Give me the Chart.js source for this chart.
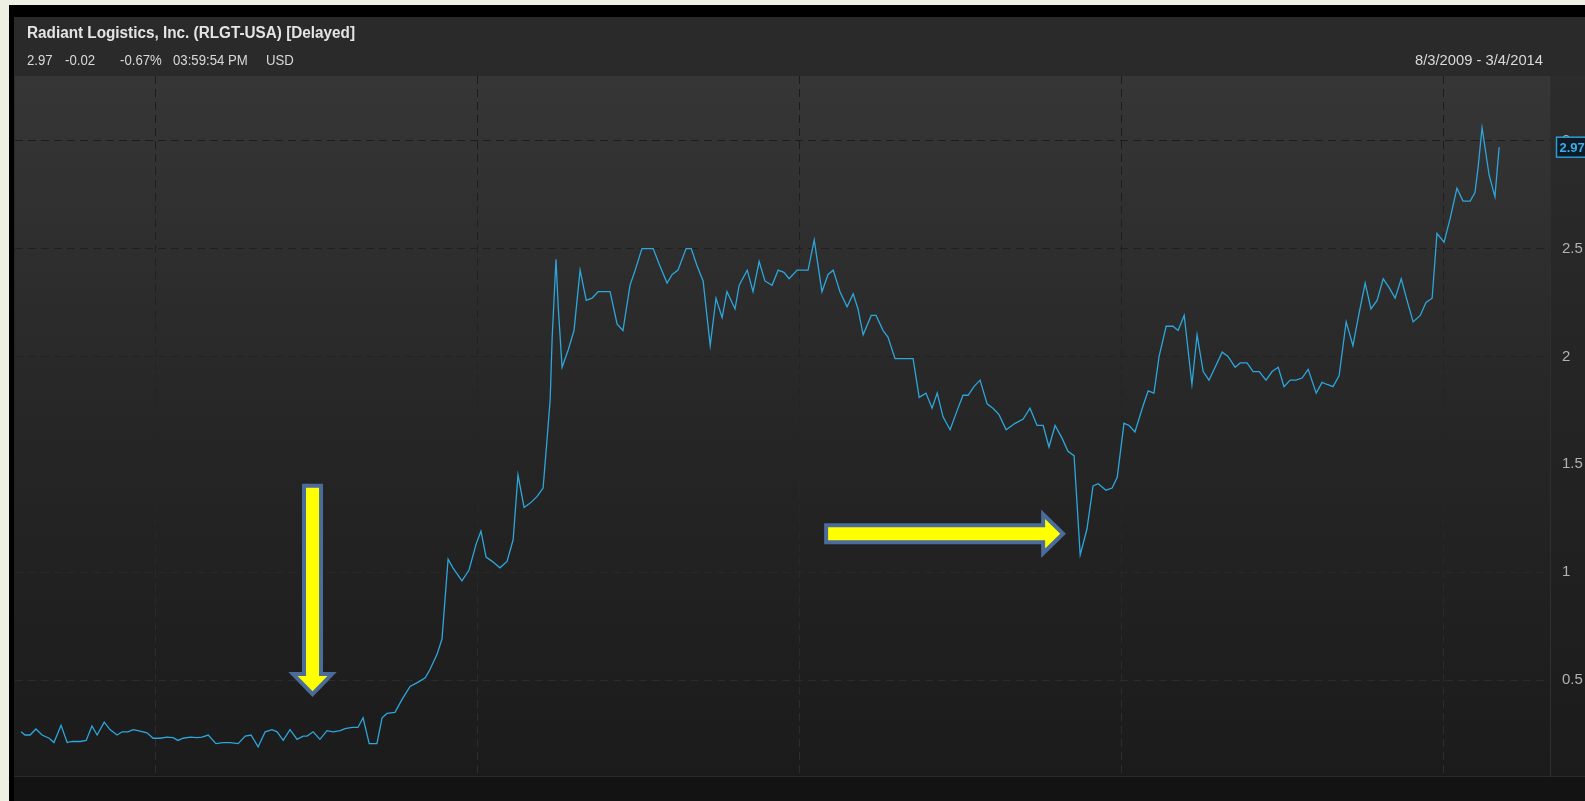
<!DOCTYPE html>
<html>
<head>
<meta charset="utf-8">
<script src="https://cdn.jsdelivr.net/npm/chart.js@4.4.0/dist/chart.umd.min.js"></script>
<style>
  html, body { margin: 0; padding: 0; width: 1585px; height: 801px; overflow: hidden; background: #edf0e3; }
  #chart { position: absolute; left: 0; top: 0; }
  .txt { position: absolute; white-space: pre; font-family: "Liberation Sans", Arial, sans-serif;
         font-size: 15px; line-height: 16px; color: #d9d9d9; transform-origin: left center; transform: scaleX(0.88); }
  .bold { font-size: 16px; font-weight: bold; color: #e4e4e4; transform: none; }
</style>
</head>
<body>
<canvas id="chart" width="1585" height="801"></canvas>

<div class="txt bold" style="left:27px; top:25px" data-w="328">Radiant Logistics, Inc. (RLGT-USA) [Delayed]</div>
<div class="txt" style="left:27px; top:52px">2.97</div>
<div class="txt" style="left:65px; top:52px">-0.02</div>
<div class="txt" style="left:120px; top:52px">-0.67%</div>
<div class="txt" style="left:173px; top:52px">03:59:54 PM</div>
<div class="txt" style="left:266px; top:52px">USD</div>
<div class="txt" style="left:1415px; top:52px" data-w="128">8/3/2009 - 3/4/2014</div>

<script>
// weekly closes, x = decimal year
const weekOf = [
  2009.584, 2009.596, 2009.612, 2009.630, 2009.649, 2009.671, 2009.686, 2009.708, 2009.727, 2009.742,
  2009.767, 2009.786, 2009.804, 2009.820, 2009.842, 2009.860, 2009.882, 2009.898, 2009.916, 2009.932,
  2009.947, 2009.975, 2009.994, 2010.016, 2010.037, 2010.056, 2010.071, 2010.087, 2010.109, 2010.130,
  2010.146, 2010.165, 2010.189, 2010.211, 2010.233, 2010.258, 2010.280, 2010.298, 2010.320, 2010.342,
  2010.363, 2010.379, 2010.398, 2010.419, 2010.441, 2010.460, 2010.472, 2010.491, 2010.512, 2010.534,
  2010.553, 2010.575, 2010.590, 2010.612, 2010.630, 2010.646, 2010.665, 2010.689, 2010.705, 2010.720,
  2010.745, 2010.767, 2010.792, 2010.817, 2010.839, 2010.854, 2010.876, 2010.891, 2010.910, 2010.925,
  2010.953, 2010.975, 2010.997, 2011.012, 2011.028, 2011.047, 2011.071, 2011.093, 2011.112, 2011.127,
  2011.146, 2011.165, 2011.186, 2011.205, 2011.217, 2011.227, 2011.233, 2011.245, 2011.252, 2011.264,
  2011.283, 2011.301, 2011.320, 2011.339, 2011.357, 2011.376, 2011.394, 2011.413, 2011.435, 2011.453,
  2011.475, 2011.491, 2011.512, 2011.531, 2011.547, 2011.565, 2011.590, 2011.606, 2011.624, 2011.649,
  2011.665, 2011.683, 2011.702, 2011.724, 2011.742, 2011.761, 2011.776, 2011.801, 2011.814, 2011.839,
  2011.857, 2011.876, 2011.894, 2011.916, 2011.935, 2011.953, 2011.969, 2011.994, 2012.012, 2012.028,
  2012.047, 2012.071, 2012.090, 2012.106, 2012.127, 2012.149, 2012.168, 2012.183, 2012.199, 2012.224,
  2012.239, 2012.261, 2012.276, 2012.298, 2012.314, 2012.335, 2012.354, 2012.373, 2012.394, 2012.413,
  2012.429, 2012.447, 2012.469, 2012.491, 2012.509, 2012.525, 2012.543, 2012.562, 2012.584, 2012.602,
  2012.621, 2012.643, 2012.671, 2012.696, 2012.717, 2012.739, 2012.758, 2012.776, 2012.795, 2012.817,
  2012.835, 2012.854, 2012.873, 2012.894, 2012.913, 2012.929, 2012.953, 2012.972, 2012.988, 2013.009,
  2013.025, 2013.043, 2013.068, 2013.084, 2013.102, 2013.118, 2013.140, 2013.161, 2013.177, 2013.196,
  2013.220, 2013.236, 2013.255, 2013.273, 2013.292, 2013.314, 2013.332, 2013.354, 2013.370, 2013.391,
  2013.410, 2013.429, 2013.450, 2013.469, 2013.488, 2013.506, 2013.525, 2013.543, 2013.562, 2013.581,
  2013.606, 2013.624, 2013.640, 2013.658, 2013.677, 2013.699, 2013.720, 2013.739, 2013.758, 2013.776,
  2013.795, 2013.814, 2013.832, 2013.851, 2013.870, 2013.888, 2013.907, 2013.929, 2013.947, 2013.966,
  2013.981, 2014.003, 2014.022, 2014.043, 2014.062, 2014.084, 2014.099, 2014.109, 2014.121, 2014.143,
  2014.161, 2014.174
];
const closePrice = [
  0.26, 0.245, 0.245, 0.273, 0.245, 0.23, 0.21, 0.29, 0.21, 0.215,
  0.215, 0.22, 0.287, 0.245, 0.305, 0.27, 0.245, 0.26, 0.26, 0.27,
  0.265, 0.255, 0.23, 0.23, 0.235, 0.233, 0.22, 0.23, 0.235, 0.233,
  0.235, 0.245, 0.205, 0.21, 0.21, 0.205, 0.24, 0.245, 0.19, 0.26,
  0.27, 0.26, 0.22, 0.27, 0.225, 0.24, 0.24, 0.26, 0.225, 0.265,
  0.26, 0.265, 0.275, 0.28, 0.28, 0.325, 0.205, 0.205, 0.325, 0.345,
  0.35, 0.41, 0.47, 0.49, 0.51, 0.55, 0.62, 0.69, 1.06, 1.02,
  0.96, 1.01, 1.13, 1.19, 1.07, 1.05, 1.02, 1.05, 1.15, 1.45,
  1.30, 1.32, 1.35, 1.39, 1.61, 1.80, 2.08, 2.45, 2.23, 1.95,
  2.03, 2.12, 2.40, 2.26, 2.27, 2.30, 2.30, 2.30, 2.15, 2.12,
  2.33, 2.40, 2.50, 2.50, 2.50, 2.43, 2.34, 2.38, 2.40, 2.50,
  2.50, 2.42, 2.35, 2.05, 2.27, 2.18, 2.30, 2.22, 2.33, 2.40,
  2.30, 2.44, 2.35, 2.33, 2.40, 2.39, 2.36, 2.40, 2.40, 2.40,
  2.54, 2.30, 2.38, 2.40, 2.30, 2.23, 2.29, 2.22, 2.10, 2.19,
  2.19, 2.12, 2.09, 1.99, 1.99, 1.99, 1.99, 1.81, 1.83, 1.76,
  1.83, 1.72, 1.66, 1.75, 1.82, 1.82, 1.86, 1.89, 1.78, 1.76,
  1.73, 1.66, 1.69, 1.71, 1.76, 1.68, 1.68, 1.58, 1.68, 1.62,
  1.56, 1.54, 1.08, 1.20, 1.40, 1.41, 1.38, 1.39, 1.44, 1.69,
  1.68, 1.65, 1.77, 1.84, 1.83, 2.00, 2.14, 2.14, 2.12, 2.19,
  1.87, 2.10, 1.93, 1.89, 1.95, 2.02, 2.00, 1.95, 1.97, 1.97,
  1.93, 1.93, 1.89, 1.93, 1.95, 1.86, 1.89, 1.89, 1.90, 1.94,
  1.83, 1.88, 1.87, 1.86, 1.91, 2.16, 2.05, 2.20, 2.34, 2.22,
  2.26, 2.36, 2.32, 2.27, 2.36, 2.26, 2.16, 2.19, 2.25, 2.27,
  2.57, 2.53, 2.64, 2.78, 2.72, 2.72, 2.76, 2.88, 3.06, 2.84,
  2.74, 2.97
];
const yTicks = [0.5, 1, 1.5, 2, 2.5, 3];
const yearTicks = [2010, 2011, 2012, 2013, 2014];
// yellow callout arrows, in data units [year, price]
const arrowMarks = [
  { from: [2010.489, 1.40], to: [2010.489, 0.435] },
  { from: [2012.084, 1.178], to: [2012.820, 1.178] }
];

// squeeze the title and date range to their width in the original
document.querySelectorAll('.txt[data-w]').forEach(el => {
  el.style.transform = 'none';
  const w = el.getBoundingClientRect().width;
  el.style.transform = 'scaleX(' + (el.dataset.w / w) + ')';
});

function gridShade(chart) {
  const a = chart.chartArea;
  if (!a) return '#262626';
  const g = chart.ctx.createLinearGradient(0, a.top, 0, a.bottom);
  g.addColorStop(0, '#1b1b1b');
  g.addColorStop(1, '#2e2e2e');
  return g;
}

const frame = {
  id: 'frame',
  beforeDraw(chart) {
    const { ctx, chartArea: a, width, height } = chart;
    ctx.save();
    ctx.fillStyle = '#edf0e3';
    ctx.fillRect(0, 0, width, height);
    ctx.fillStyle = '#000';
    ctx.fillRect(9, 5, width - 9, height - 5);
    ctx.fillStyle = '#2a2a2a';
    ctx.fillRect(14, 17, width - 14, height - 17);

    let g = ctx.createLinearGradient(0, a.top, 0, a.bottom);
    g.addColorStop(0, '#2c2c2c');
    g.addColorStop(1, '#1b1b1b');
    ctx.fillStyle = g;
    ctx.fillRect(14, a.top, width - 14, a.bottom - a.top);

    g = ctx.createLinearGradient(0, a.top, 0, a.bottom);
    g.addColorStop(0, '#363636');
    g.addColorStop(0.5, '#262626');
    g.addColorStop(1, '#1b1b1b');
    ctx.fillStyle = g;
    ctx.fillRect(a.left, a.top, a.right - a.left, a.bottom - a.top);

    ctx.fillStyle = '#131313';
    ctx.fillRect(14, a.bottom + 1, width - 14, height - a.bottom - 1);
    ctx.restore();
  }
};

const marks = {
  id: 'marks',
  afterDraw(chart) {
    const { ctx } = chart;
    const xs = chart.scales.x, ys = chart.scales.y;
    ctx.save();
    arrowMarks.forEach(m => {
      const x1 = xs.getPixelForValue(m.from[0]), y1 = ys.getPixelForValue(m.from[1]);
      const x2 = xs.getPixelForValue(m.to[0]), y2 = ys.getPixelForValue(m.to[1]);
      const len = Math.hypot(x2 - x1, y2 - y1);
      const ux = (x2 - x1) / len, uy = (y2 - y1) / len;
      const nx = -uy, ny = ux;
      const sw = 8.5, hw = 19.5, hl = 20;
      const bx = x2 - ux * hl, by = y2 - uy * hl;
      ctx.beginPath();
      ctx.moveTo(x1 + nx * sw, y1 + ny * sw);
      ctx.lineTo(bx + nx * sw, by + ny * sw);
      ctx.lineTo(bx + nx * hw, by + ny * hw);
      ctx.lineTo(x2, y2);
      ctx.lineTo(bx - nx * hw, by - ny * hw);
      ctx.lineTo(bx - nx * sw, by - ny * sw);
      ctx.lineTo(x1 - nx * sw, y1 - ny * sw);
      ctx.closePath();
      ctx.fillStyle = '#ffff00';
      ctx.fill();
      ctx.lineWidth = 4;
      ctx.lineJoin = 'miter';
      ctx.strokeStyle = '#4b6b9b';
      ctx.stroke();
    });

    // last price tag on the axis
    const last = closePrice[closePrice.length - 1];
    const ty = ys.getPixelForValue(last);
    const tx = chart.chartArea.right + 6.5;
    ctx.fillStyle = '#0c1b25';
    ctx.fillRect(tx, ty - 10, 40, 20);
    ctx.lineWidth = 1.5;
    ctx.strokeStyle = '#2b9cd6';
    ctx.strokeRect(tx, ty - 10, 40, 20);
    ctx.fillStyle = '#3aaee8';
    ctx.font = 'bold 13px "Liberation Sans", Arial, sans-serif';
    ctx.textBaseline = 'middle';
    ctx.fillText(last.toFixed(2), tx + 3, ty + 1);
    ctx.restore();
  }
};

new Chart(document.getElementById('chart'), {
  type: 'line',
  data: {
    datasets: [{
      data: weekOf.map((x, i) => ({ x: x, y: closePrice[i] })),
      borderColor: '#2da6dc',
      borderWidth: 1.3,
      pointRadius: 0,
      tension: 0,
      fill: false
    }]
  },
  options: {
    responsive: false,
    animation: false,
    devicePixelRatio: 1,
    layout: { padding: { left: 15, top: 76, right: 0, bottom: 25 } },
    plugins: { legend: { display: false }, tooltip: { enabled: false } },
    scales: {
      x: {
        type: 'linear',
        min: 2009.565,
        max: 2014.332,
        afterBuildTicks: s => { s.ticks = yearTicks.map(v => ({ value: v })); },
        afterFit: s => { s.height = 0; },
        ticks: { display: false },
        grid: { color: c => gridShade(c.chart), drawTicks: false },
        border: { display: false, dash: [8, 5] }
      },
      y: {
        position: 'right',
        min: 0.055,
        max: 3.30,
        afterBuildTicks: s => { s.ticks = yTicks.map(v => ({ value: v })); },
        afterFit: s => { s.width = 35; },
        ticks: {
          color: '#b2b2b2',
          padding: 12,
          font: { family: '"Liberation Sans", Arial, sans-serif', size: 15 },
          callback: v => String(v)
        },
        grid: { color: c => gridShade(c.chart), drawTicks: false },
        border: { display: true, color: '#2f2f2f', dash: [8, 5] }
      }
    }
  },
  plugins: [frame, marks]
});
</script>
</body>
</html>
